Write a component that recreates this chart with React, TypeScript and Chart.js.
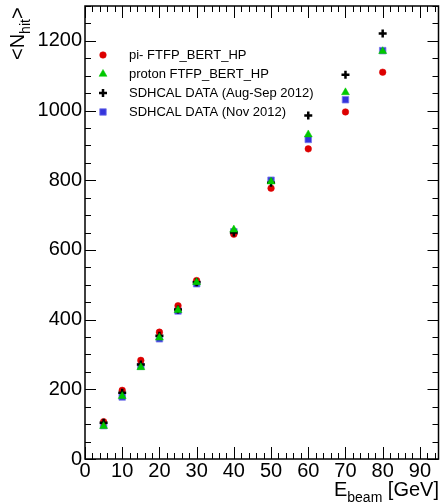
import React, { useEffect, useRef } from 'react';
import { Chart, registerables } from 'chart.js';

Chart.register(...registerables);

const energies = [5, 10, 15, 20, 25, 30, 40, 50, 60, 70, 80];
const piSim = [107, 197, 283, 364, 440, 512, 645, 777, 890, 996, 1110];
const protonSim = [94, 180, 263, 348, 427, 507, 658, 796, 931, 1052, 1170];
const dataAugSep = [104, 190, 271, 354, 429, 507, 650, 793, 986, 1103, 1221];
const dataNov = [96, 178, 266, 345, 425, 503, 652, 800, 917, 1031, 1172];

const seriesLabels = [
  'pi- FTFP_BERT_HP',
  'proton FTFP_BERT_HP',
  'SDHCAL DATA (Aug-Sep 2012)',
  'SDHCAL DATA (Nov 2012)',
];

const xTickLabels = [0, 10, 20, 30, 40, 50, 60, 70, 80, 90];
const yTickLabels = [0, 200, 400, 600, 800, 1000, 1200];

const xMin = 0;
const xMax = 95;
const yMin = 0;
const yMax = 1300;
const xMajor = 10;
const xMinor = 2;
const yMajor = 200;
const yMinor = 50;

const FONT = '"Liberation Sans", Arial, Helvetica, sans-serif';

const toPoints = (vals: number[]) => energies.map((e, i) => ({ x: e, y: vals[i] }));

function drawMarker(ctx: CanvasRenderingContext2D, ds: any, x: number, y: number) {
  const r = ds.pointRadius;
  ctx.save();
  ctx.fillStyle = ds.pointBackgroundColor;
  ctx.strokeStyle = ds.pointBorderColor;
  ctx.lineWidth = ds.pointBorderWidth;
  ctx.beginPath();
  if (ds.pointStyle === 'circle') {
    ctx.arc(x, y, r, 0, Math.PI * 2);
    ctx.fill();
    ctx.stroke();
  } else if (ds.pointStyle === 'triangle') {
    ctx.moveTo(x, y - r);
    ctx.lineTo(x + Math.sin(2.0944) * r, y - Math.cos(2.0944) * r);
    ctx.lineTo(x + Math.sin(4.18879) * r, y - Math.cos(4.18879) * r);
    ctx.closePath();
    ctx.fill();
    ctx.stroke();
  } else if (ds.pointStyle === 'rect') {
    const s = r * Math.SQRT1_2;
    ctx.rect(x - s, y - s, 2 * s, 2 * s);
    ctx.fill();
    ctx.stroke();
  } else if (ds.pointStyle === 'cross') {
    ctx.moveTo(x - r, y);
    ctx.lineTo(x + r, y);
    ctx.moveTo(x, y - r);
    ctx.lineTo(x, y + r);
    ctx.stroke();
  }
  ctx.restore();
}

const rootPlugin = {
  id: 'rootStyle',
  afterDraw(chart: any) {
    const ctx = chart.ctx as CanvasRenderingContext2D;
    const { left, right, top, bottom } = chart.chartArea;
    const xs = chart.scales.x;
    const ys = chart.scales.y;
    ctx.save();
    ctx.strokeStyle = '#000';
    ctx.lineWidth = 1.5;
    ctx.strokeRect(left, top, right - left, bottom - top);
    ctx.lineWidth = 1;
    for (let v = xMin; v <= xMax + 1e-6; v += xMinor) {
      const px = Math.round(xs.getPixelForValue(v)) + 0.5;
      const major = Math.abs(v % xMajor) < 1e-6;
      const len = major ? 12 : 6;
      ctx.beginPath();
      ctx.moveTo(px, bottom);
      ctx.lineTo(px, bottom - len);
      ctx.moveTo(px, top);
      ctx.lineTo(px, top + len);
      ctx.stroke();
    }
    for (let v = yMin; v <= yMax + 1e-6; v += yMinor) {
      const py = Math.round(ys.getPixelForValue(v)) + 0.5;
      const major = Math.abs(v % yMajor) < 1e-6;
      const len = major ? 11 : 6;
      ctx.beginPath();
      ctx.moveTo(left, py);
      ctx.lineTo(left + len, py);
      ctx.moveTo(right, py);
      ctx.lineTo(right - len, py);
      ctx.stroke();
    }

    // legend
    const rowY = [55, 74, 93, 112];
    chart.data.datasets.forEach((ds: any, row: number) => {
      const y = rowY[row];
      drawMarker(ctx, ds, 103, y);
      ctx.fillStyle = '#000';
      ctx.font = `13px ${FONT}`;
      ctx.textBaseline = 'middle';
      ctx.textAlign = 'left';
      ctx.fillText(ds.label, 129, y + 0.5);
    });

    // y title  <N_hit>
    ctx.save();
    ctx.translate(24, 60);
    ctx.rotate(-Math.PI / 2);
    ctx.fillStyle = '#000';
    ctx.textBaseline = 'alphabetic';
    ctx.textAlign = 'left';
    let cx = 0;
    ctx.font = `20px ${FONT}`;
    ctx.fillText('<N', cx, 0);
    cx += ctx.measureText('<N').width;
    ctx.font = `14px ${FONT}`;
    ctx.fillText('hit', cx, 6);
    cx += ctx.measureText('hit').width;
    ctx.font = `20px ${FONT}`;
    ctx.fillText('>', cx, 0);
    ctx.restore();

    // x title E_beam [GeV]
    ctx.save();
    ctx.fillStyle = '#000';
    ctx.textBaseline = 'alphabetic';
    ctx.textAlign = 'left';
    ctx.font = `20px ${FONT}`;
    const wE = ctx.measureText('E').width;
    const wG = ctx.measureText(' [GeV]').width;
    ctx.font = `14px ${FONT}`;
    const wB = ctx.measureText('beam').width;
    let sx = 439 - (wE + wB + wG);
    ctx.font = `20px ${FONT}`;
    ctx.fillText('E', sx, 496);
    sx += wE;
    ctx.font = `14px ${FONT}`;
    ctx.fillText('beam', sx, 502);
    sx += wB;
    ctx.font = `20px ${FONT}`;
    ctx.fillText(' [GeV]', sx, 496);
    ctx.restore();

    ctx.restore();
  },
};

export default function App() {
  const ref = useRef<HTMLCanvasElement | null>(null);
  useEffect(() => {
    document.body.style.margin = '0';
    const canvas = ref.current;
    if (!canvas) return;
    const red = '#dd0000';
    const green = '#00c800';
    const blue = '#3434dc';
    const chart = new Chart(canvas, {
      type: 'scatter',
      data: {
        datasets: [
          {
            label: seriesLabels[0],
            data: toPoints(piSim),
            pointStyle: 'circle',
            pointRadius: 3.3,
            pointBackgroundColor: red,
            pointBorderColor: red,
            pointBorderWidth: 0.5,
            order: 2,
          },
          {
            label: seriesLabels[1],
            data: toPoints(protonSim),
            pointStyle: 'triangle',
            pointRadius: 4.6,
            pointBackgroundColor: green,
            pointBorderColor: green,
            pointBorderWidth: 0.5,
            order: 0,
          },
          {
            label: seriesLabels[2],
            data: toPoints(dataAugSep),
            pointStyle: 'cross',
            pointRadius: 4,
            pointBackgroundColor: '#000',
            pointBorderColor: '#000',
            pointBorderWidth: 2.5,
            order: 1,
          },
          {
            label: seriesLabels[3],
            data: toPoints(dataNov),
            pointStyle: 'rect',
            pointRadius: 4.6,
            pointBackgroundColor: blue,
            pointBorderColor: '#7a7aec',
            pointBorderWidth: 0.8,
            order: 3,
          },
        ] as any,
      },
      options: {
        animation: false,
        responsive: false,
        devicePixelRatio: 1,
        layout: { autoPadding: false, padding: { top: 6, right: 1.5, left: 0, bottom: 0 } },
        plugins: {
          legend: { display: false },
          tooltip: { enabled: false },
        },
        scales: {
          x: {
            type: 'linear',
            min: xMin,
            max: xMax,
            grid: { display: false, drawTicks: false },
            border: { display: false },
            ticks: {
              autoSkip: false,
              maxRotation: 0,
              padding: 0,
              color: '#000',
              font: { size: 20, family: FONT },
              callback: (v: any) => String(v),
            },
            afterBuildTicks: (s: any) => {
              s.ticks = xTickLabels.map((v) => ({ value: v }));
            },
            afterFit: (s: any) => {
              s.height = 43;
              s.paddingLeft = 0;
              s.paddingRight = 0;
            },
          },
          y: {
            type: 'linear',
            min: yMin,
            max: yMax,
            grid: { display: false, drawTicks: false },
            border: { display: false },
            ticks: {
              autoSkip: false,
              padding: 3,
              color: '#000',
              font: { size: 20, family: FONT },
              callback: (v: any) => String(v),
            },
            afterBuildTicks: (s: any) => {
              s.ticks = yTickLabels.map((v) => ({ value: v }));
            },
            afterFit: (s: any) => {
              s.width = 85;
              s.paddingTop = 0;
              s.paddingBottom = 0;
            },
          },
        },
      },
      plugins: [rootPlugin],
    });
    return () => chart.destroy();
  }, []);
  return <canvas ref={ref} width={440} height={502} style={{ display: 'block', width: 440, height: 502 }} />;
}
